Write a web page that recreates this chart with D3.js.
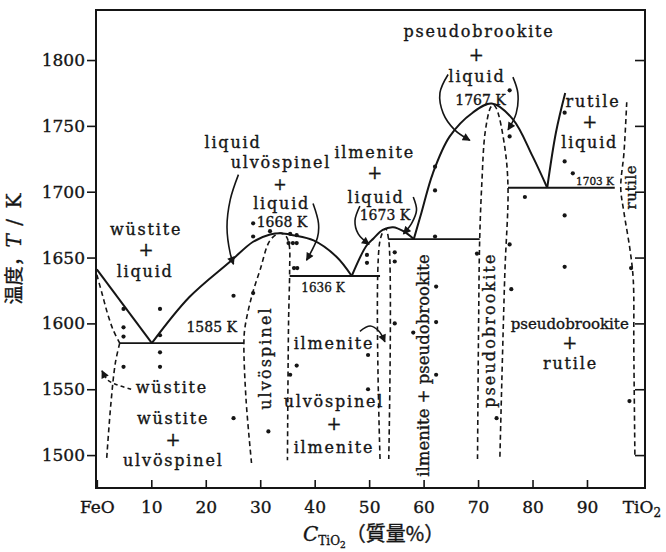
<!DOCTYPE html>
<html>
<head>
<meta charset="utf-8">
<script src="https://cdn.jsdelivr.net/npm/d3@7"></script>
<style>
  body { margin: 0; background: #fff; }
  svg text { font-family: "DejaVu Serif", serif; fill: #151515; stroke: #151515; stroke-width: 0.35px; }
</style>
</head>
<body>
<svg id="chart" width="666" height="552"></svg>
<script>
// axis ticks
const compTicks = [0, 10, 20, 30, 40, 50, 60, 70, 80, 90, 100];
const tempTicks = [1500, 1550, 1600, 1650, 1700, 1750, 1800];

// liquidus curves [mass% TiO2, K]
const liquidusWustite = [[0, 1641], [10.1, 1585]];
const liquidusUlvospinel = [[10.1, 1585], [17, 1620], [24.5, 1647], [28.7, 1662], [31.8, 1667.5], [33.8, 1668.5], [36, 1667], [39.8, 1663], [44, 1650.6], [46.8, 1636]];
const liquidusIlmenite = [[46.8, 1636], [49.5, 1659], [50.8, 1664.5], [52.5, 1671], [54.4, 1673], [56.3, 1670], [58.2, 1664]];
const liquidusPseudobrookite = [[58.2, 1664], [59.6, 1684], [61.7, 1714], [64.8, 1742], [69, 1760], [72.5, 1767], [76.4, 1755], [80, 1727], [82.7, 1703]];
const liquidusRutile = [[82.7, 1703], [84.3, 1745], [86, 1775]];

// invariant temperatures and their extent
const isothermTemp = [1585, 1636, 1664, 1703];
const isothermFrom = [4.2, 35.4, 53.5, 75.5];
const isothermTo = [27.0, 52.0, 70.3, 95.1];

// solid phase boundaries (dashed)
const wustiteUpper = [[0, 1637], [1, 1622], [2, 1607], [3, 1595], [4.2, 1585]];
const wustiteLower = [[4.2, 1585], [3.4, 1570], [2.6, 1540], [1.8, 1497]];
const ulvospinelField = [[28.4, 1494], [27.4, 1542], [27.0, 1585], [27.2, 1597], [28.4, 1620], [30, 1641], [31.8, 1663], [33.5, 1668.5], [34.6, 1667], [35.3, 1660], [35.4, 1640], [35.2, 1600], [35, 1496]];
const ilmeniteField = [[52, 1497], [52, 1663], [53, 1672], [53.6, 1663], [53.6, 1497]];
const pseudobrookiteField = [[69.9, 1497], [70.1, 1600], [70.3, 1664], [70.7, 1707], [71.3, 1745], [72.3, 1764], [72.8, 1766], [73.4, 1763], [74.9, 1734], [75.5, 1703], [74.9, 1636], [74, 1497]];
const rutileField = [[97.3, 1768], [96.8, 1730], [96.2, 1703], [96.8, 1684], [97.9, 1656], [98.5, 1633], [98.6, 1580], [98.8, 1499]];

// experimental points
const measured = [
  [4.9, 1611], [4.9, 1597], [4.9, 1590], [4.9, 1567],
  [11.6, 1611], [11.6, 1591], [11.6, 1578], [11.6, 1567],
  [25.1, 1621], [28.7, 1623], [25.1, 1528], [31.5, 1518],
  [28.7, 1676], [28.7, 1666], [31.8, 1670], [35.5, 1668], [36.7, 1667],
  [35.2, 1661], [36.0, 1661], [36.7, 1661], [36.2, 1642], [36.8, 1642],
  [36.7, 1568], [35.5, 1561],
  [49.6, 1652], [49.6, 1646], [49.8, 1576], [49.8, 1550],
  [54.7, 1654], [54.7, 1647], [54.7, 1600], [58.1, 1593],
  [62.1, 1719], [62.1, 1701], [62.1, 1666], [62.3, 1628], [62.3, 1601], [62.3, 1561],
  [69.8, 1653],
  [75.8, 1777], [75.8, 1742], [75.8, 1660], [76.1, 1626], [73.4, 1528],
  [78.6, 1696],
  [85.9, 1760], [85.9, 1723], [87.4, 1714], [85.9, 1682], [85.9, 1643],
  [98.1, 1642], [97.8, 1541]
];

// pointer arrows from labels
const arrowLiquidLeft = [[26, 1713], [24.5, 1694], [23.9, 1673], [24.5, 1653], [25.1, 1645]];
const arrowLiquidRight = [[39.7, 1691], [40.7, 1676], [40.5, 1665], [38.5, 1648]];
const arrowIlmLeft = [[48.3, 1689], [47.4, 1678], [48, 1668], [50, 1660]];
const arrowIlmRight = [[58.1, 1696], [58.7, 1686], [57.8, 1676], [56.3, 1668]];
const arrowPsbLeft = [[64.5, 1789], [63, 1775], [63.6, 1759.5], [65.7, 1747], [68.5, 1739]];
const arrowPsbRight = [[76.4, 1787], [77.3, 1775], [77, 1759.5], [75.5, 1747]];
const arrowIlmLower = [[48.3, 1594], [50.2, 1598], [51.8, 1594], [52.9, 1586]];
const arrowWustite = [[6.3, 1550], [3.3, 1554], [2.0, 1557], [0.95, 1564]];

// field labels [text, mass%, K, kind]
const labels = [
  ["wüstite", 9.04, 1667.1, "lbl"], ["+", 9.04, 1651.2, "plus"], ["liquid", 8.87, 1635.2, "lbl"],
  ["1585 K", 21.09, 1593.6, "temp"],
  ["wüstite", 13.8, 1546.9, "lbl"],
  ["wüstite", 14.0, 1523.5, "lbl"], ["+", 14.0, 1507, "plus"], ["ulvöspinel", 14.04, 1491.7, "lbl"],
  ["ulvöspinel", 31.06, 1573.7, "vertWide"],
  ["liquid", 25.0, 1733.2, "lbl"],
  ["ulvöspinel", 33.82, 1718, "lbl"], ["+", 33.63, 1701.2, "plusSmall"], ["liquid", 33.94, 1686.5, "lbl"],
  ["1668 K", 33.99, 1673.4, "temp"],
  ["1636 K", 41.53, 1624.0, "small"],
  ["ilmenite", 43.54, 1580.3, "lbl"],
  ["ulvöspinel", 43.54, 1536.5, "lbl"], ["+", 43.54, 1519, "plus"], ["ilmenite", 43.54, 1501.8, "lbl"],
  ["ilmenite", 51.02, 1725.3, "lbl"], ["+", 51.02, 1709.5, "plus"], ["liquid", 51.26, 1691.2, "lbl"],
  ["1673 K", 52.91, 1678.5, "temp"],
  ["ilmenite + pseudobrookite", 59.89, 1568, "vert"],
  ["pseudobrookite", 72.19, 1594.9, "vertWide"],
  ["pseudobrookite", 70.17, 1817.5, "lbl"], ["+", 69.68, 1799.5, "plus"], ["liquid", 69.8, 1783.5, "lbl"],
  ["1767 K", 70.45, 1765.8, "temp"],
  ["rutile", 91.1, 1764.5, "lbl"], ["+", 90.5, 1748.5, "plus"], ["liquid", 90.5, 1733.5, "lbl"],
  ["1703 K", 91.47, 1705.1, "tiny"],
  ["rutile", 98.08, 1703.5, "vertSmall"],
  ["pseudobrookite", 86.83, 1596, "tight"], ["+", 86.83, 1580.5, "plus"], ["rutile", 86.97, 1565.1, "lbl"]
];

const labelStyle = {
  lbl: { size: 16, spacing: 1.8 },
  plus: { size: 18, spacing: 0 },
  plusSmall: { size: 16, spacing: 0 },
  temp: { size: 14, spacing: 0 },
  small: { size: 12, spacing: 0 },
  tiny: { size: 10.5, spacing: 0 },
  tight: { size: 15, spacing: 0 },
  vert: { size: 16.5, spacing: 0, rotate: true },
  vertWide: { size: 16, spacing: 2.1, rotate: true },
  vertSmall: { size: 15, spacing: 0.6, rotate: true }
};

const svg = d3.select("#chart");
const plotLeft = 96, plotRight = 645, plotTop = 10, plotBottom = 488;

const x = d3.scaleLinear().domain([0, 100]).range([96.84, 641.44]);
const y = d3.scaleLinear().domain([1475, 1838]).range([plotBottom, plotTop]);

const ink = "#151515";

svg.append("defs").append("marker")
    .attr("id", "head")
    .attr("viewBox", "0 0 10 10")
    .attr("refX", 9).attr("refY", 5)
    .attr("markerWidth", 9).attr("markerHeight", 8)
    .attr("markerUnits", "userSpaceOnUse")
    .attr("orient", "auto")
  .append("path")
    .attr("d", "M0,0L10,5L0,10z")
    .attr("fill", ink);

const smooth = d3.line().x(d => x(d[0])).y(d => y(d[1])).curve(d3.curveCatmullRom.alpha(0.5));
const straight = d3.line().x(d => x(d[0])).y(d => y(d[1]));

// dashed boundaries of the solid phases
[wustiteUpper, wustiteLower, ulvospinelField, ilmeniteField, pseudobrookiteField, rutileField].forEach(pts => {
  svg.append("path")
      .attr("d", smooth(pts))
      .attr("fill", "none")
      .attr("stroke", ink)
      .attr("stroke-width", 1.6)
      .attr("stroke-dasharray", "5,3.5");
});

// liquidus
svg.append("path").attr("d", straight(liquidusWustite))
    .attr("fill", "none").attr("stroke", ink).attr("stroke-width", 2);
[liquidusUlvospinel, liquidusIlmenite, liquidusPseudobrookite, liquidusRutile].forEach(pts => {
  svg.append("path")
      .attr("d", smooth(pts))
      .attr("fill", "none")
      .attr("stroke", ink)
      .attr("stroke-width", 2);
});

// invariant lines
svg.selectAll(".iso")
    .data(isothermTemp)
    .enter()
    .append("line")
    .attr("class", "iso")
    .attr("x1", (d, i) => x(isothermFrom[i]))
    .attr("x2", (d, i) => x(isothermTo[i]))
    .attr("y1", d => y(d))
    .attr("y2", d => y(d))
    .attr("stroke", ink)
    .attr("stroke-width", 1.8);

// experimental points
svg.selectAll(".pt")
    .data(measured)
    .enter()
    .append("circle")
    .attr("class", "pt")
    .attr("cx", d => x(d[0]))
    .attr("cy", d => y(d[1]))
    .attr("r", 2.1)
    .attr("fill", ink);

// arrows
[arrowLiquidLeft, arrowLiquidRight, arrowIlmLeft, arrowIlmRight, arrowPsbLeft, arrowPsbRight, arrowIlmLower].forEach(pts => {
  svg.append("path")
      .attr("d", smooth(pts))
      .attr("fill", "none")
      .attr("stroke", ink)
      .attr("stroke-width", 1.6)
      .attr("marker-end", "url(#head)");
});
svg.append("path")
    .attr("d", smooth(arrowWustite))
    .attr("fill", "none")
    .attr("stroke", ink)
    .attr("stroke-width", 1.5)
    .attr("stroke-dasharray", "4,3")
    .attr("marker-end", "url(#head)");

// labels
labels.forEach(([t, cx, cy, kind]) => {
  const st = labelStyle[kind];
  const txt = svg.append("text")
      .attr("font-size", st.size)
      .attr("letter-spacing", st.spacing)
      .attr("text-anchor", "middle")
      .text(t);
  if (st.rotate) {
    txt.attr("dominant-baseline", "central")
       .attr("transform", `translate(${x(cx)},${y(cy)}) rotate(-90)`);
  } else {
    txt.attr("x", x(cx)).attr("y", y(cy));
  }
});

// axes
const xAxis = svg.append("g")
    .attr("transform", `translate(0,${plotBottom})`)
    .call(d3.axisBottom(x).tickValues(compTicks).tickSizeInner(-8).tickSizeOuter(0).tickPadding(13)
      .tickFormat(d => d === 0 ? "FeO" : d === 100 ? "" : d));
xAxis.select(".domain").remove();
xAxis.selectAll("line").attr("stroke", ink).attr("stroke-width", 1.6);
xAxis.selectAll("text").attr("font-family", "DejaVu Serif").attr("font-size", 17).attr("fill", ink);
const tio2 = xAxis.selectAll(".tick").filter(d => d === 100).select("text");
tio2.append("tspan").text("TiO");
tio2.append("tspan").attr("font-size", 12).attr("dy", 4).text("2");
xAxis.selectAll(".tick").filter(d => d === 100).select("line").remove();

const yAxis = svg.append("g")
    .attr("transform", `translate(${plotLeft},0)`)
    .call(d3.axisLeft(y).tickValues(tempTicks).tickSize(9).tickPadding(2).tickFormat(d3.format("d")));
yAxis.select(".domain").remove();
yAxis.selectAll("line").attr("stroke", ink).attr("stroke-width", 1.6);
yAxis.selectAll("text").attr("font-family", "DejaVu Serif").attr("font-size", 17).attr("fill", ink);

const yRight = svg.append("g")
    .attr("transform", `translate(${plotRight},0)`)
    .call(d3.axisRight(y).tickValues(tempTicks).tickSize(-10).tickFormat(""));
yRight.select(".domain").remove();
yRight.selectAll("line").attr("stroke", ink).attr("stroke-width", 1.6);

// frame
svg.append("rect")
    .attr("x", plotLeft).attr("y", plotTop)
    .attr("width", plotRight - plotLeft).attr("height", plotBottom - plotTop)
    .attr("fill", "none")
    .attr("stroke", ink)
    .attr("stroke-width", 2);

// axis titles
const xTitle = svg.append("text").attr("x", 303).attr("y", 541);
xTitle.append("tspan").attr("font-style", "italic").attr("font-size", 20).text("C");
xTitle.append("tspan").attr("font-size", 12).attr("dy", 4).text("TiO");
xTitle.append("tspan").attr("font-size", 9).attr("dy", 3).text("2");
xTitle.append("tspan").attr("dy", -7).attr("font-size", 20)
    .style("font-family", '"Noto Sans CJK JP", sans-serif').text("（質量%）");

const yTitle = svg.append("text")
    .attr("text-anchor", "middle")
    .attr("transform", "translate(21,248) rotate(-90)");
yTitle.append("tspan").attr("font-size", 19)
    .style("font-family", '"Noto Sans CJK JP", sans-serif').text("温度，");
yTitle.append("tspan").attr("font-size", 20).attr("font-style", "italic").text("T");
yTitle.append("tspan").attr("font-size", 20).attr("letter-spacing", 2).text(" / K");
</script>
</body>
</html>
